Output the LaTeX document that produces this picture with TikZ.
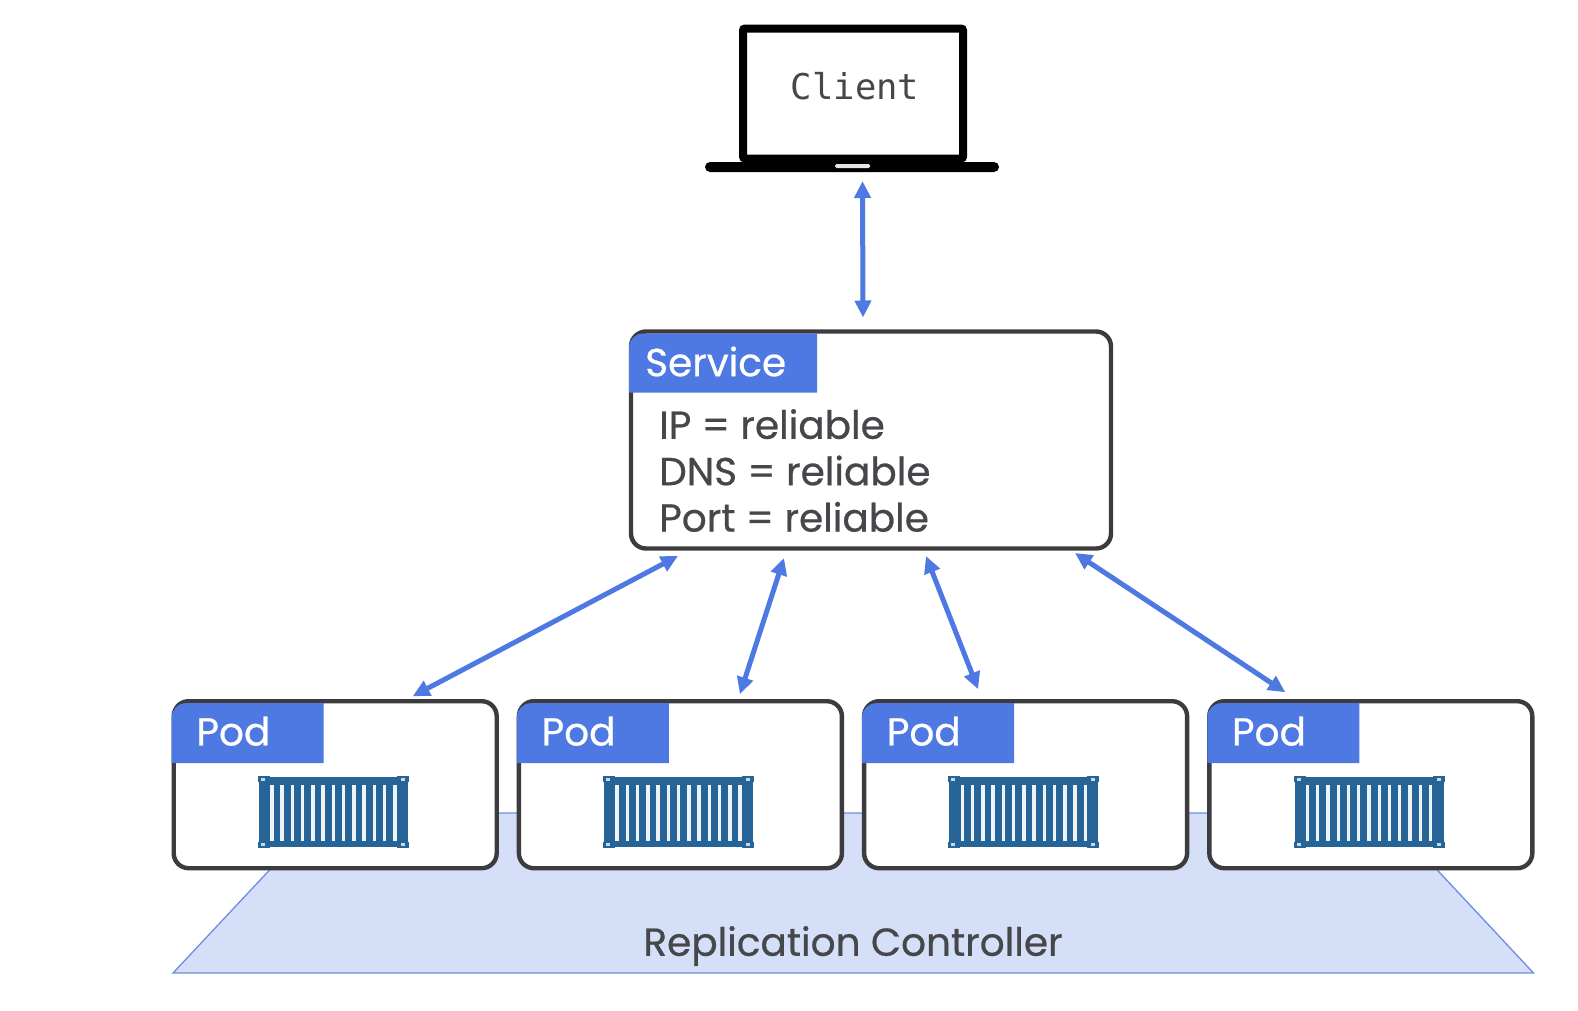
\documentclass[tikz,border=0pt]{standalone}
\usepackage{fontspec}
\setmainfont{Poppins}[FakeBold=0.6]
\setmonofont{DejaVu Sans Mono}
\usetikzlibrary{arrows.meta,positioning}
\definecolor{tabblue}{HTML}{4E79E3}
\definecolor{boxgrey}{HTML}{3C3C3E}
\definecolor{textgrey}{HTML}{45474A}
\definecolor{rcfill}{HTML}{D6DFF8}
\definecolor{rcline}{HTML}{6C8DE2}
\definecolor{cargoblue}{HTML}{266497}
\tikzset{
  podbox/.style={draw=boxgrey,line width=4.4pt,fill=white,rounded corners=15pt,inner sep=0pt,outer sep=0pt,
    minimum width=323pt,minimum height=167pt},
  servicebox/.style={podbox,minimum width=480pt,minimum height=217pt},
  tablabel/.style={text=white,font=\fontsize{39}{39}\selectfont,anchor=west,inner sep=0pt},
  infotext/.style={text=textgrey,align=left,anchor=west,inner sep=0pt,font=\fontsize{39}{46.4}\selectfont},
  link/.style={<->,draw=tabblue,line width=5pt},
  pics/cargo/.style={code={
    \fill[cargoblue] (1,1) rectangle (150,71);
    \foreach \cx/\cy in {0/0,139/0,0/66,139/66} {
      \fill[cargoblue] (\cx,\cy) rectangle +(12,6);
    }
    \foreach \cx/\cy in {3/2,143/2,3/67,143/67} {
      \fill[white!75!cargoblue] (\cx,\cy) rectangle +(4,2.5);
    }
    \foreach \i in {0,...,12} {
      \fill[white!92!cargoblue] (12.3+\i*10.25,9) rectangle +(3.4,55.5);
    }
  }},
}
\begin{document}
\begin{tikzpicture}[x=1pt,y=-1pt,>={Triangle[length=17pt,width=16pt]}]
  \useasboundingbox (0,0) rectangle (1578,1010);

  % controller behind the pods
  \draw[fill=rcfill,draw=rcline,line width=1.3pt] (173,973) -- (323,813) -- (1384,813) -- (1533.5,973) -- cycle;
  \node[text=textgrey,inner sep=0pt,font=\fontsize{39}{39}\selectfont] (rclabel) at (853,946) {Replication Controller};

  % laptop
  \node[draw=black,line width=8pt,fill=white,rounded corners=2pt,inner sep=0pt,outer sep=0pt,
    minimum width=220pt,minimum height=130pt] (client) at (853,93.5) {};
  \node[text=textgrey,inner sep=0pt,font=\ttfamily\fontsize{35.5}{35.5}\selectfont] (clientlabel) at (855,86.5) {Client};
  \node[fill=black,rounded corners=5pt,inner sep=0pt,outer sep=0pt,minimum width=294pt,minimum height=10pt] (base) at (852,167) {};
  \node[fill=white!90!black,rounded corners=1.5pt,inner sep=0pt,minimum width=35pt,minimum height=4pt] (notch) at (852.5,166) {};

  % service
  \node[servicebox] (service) at (871,440) {};
  \fill[tabblue,rounded corners=14pt] ([shift={(-2,61)}]service.north west) -- ([shift={(-2,2)}]service.north west) [sharp corners] -- ([shift={(186,2)}]service.north west) -- ([shift={(186,61)}]service.north west) -- cycle;
  \node[tablabel] (servicelabel) at ([shift={(14,30)}]service.north west) {Service};
  \node[infotext] (serviceinfo) at ([shift={(28,139)}]service.north west) {IP = reliable\\DNS = reliable\\Port = reliable};

  % pods
  \node[podbox] (pod1) at (335.2,784.7) {};
  \node[podbox] (pod2) [right=22.2pt of pod1] {};
  \node[podbox] (pod3) [right=22.2pt of pod2] {};
  \node[podbox] (pod4) [right=22.2pt of pod3] {};

  \foreach \p in {pod1,pod2,pod3,pod4} {
    \fill[tabblue,rounded corners=14pt] ([shift={(-2,62)}]\p.north west) -- ([shift={(-2,2)}]\p.north west) [sharp corners] -- ([shift={(150,2)}]\p.north west) -- ([shift={(150,62)}]\p.north west) -- cycle;
    \node[tablabel] (\p label) at ([shift={(22.5,30)}]\p.north west) {Pod};
    \path ([shift={(84.2,75)}]\p.north west) pic {cargo};
  }

  \draw[link] ([shift={(10.5,9)}]base.south) -- ([shift={(-8,-14)}]service.north);
  \draw[link] ([shift={(47,7.5)}]service.south west) -- ([shift={(239,-5)}]pod1.north west);
  \draw[link] ([shift={(153,9.5)}]service.south west) -- ([shift={(221,-7)}]pod2.north west);
  \draw[link] ([shift={(295,7.5)}]service.south west) -- ([shift={(114,-12)}]pod3.north west);
  \draw[link] ([shift={(-36,4.5)}]service.south east) -- ([shift={(76,-9)}]pod4.north west);
\end{tikzpicture}
\end{document}
